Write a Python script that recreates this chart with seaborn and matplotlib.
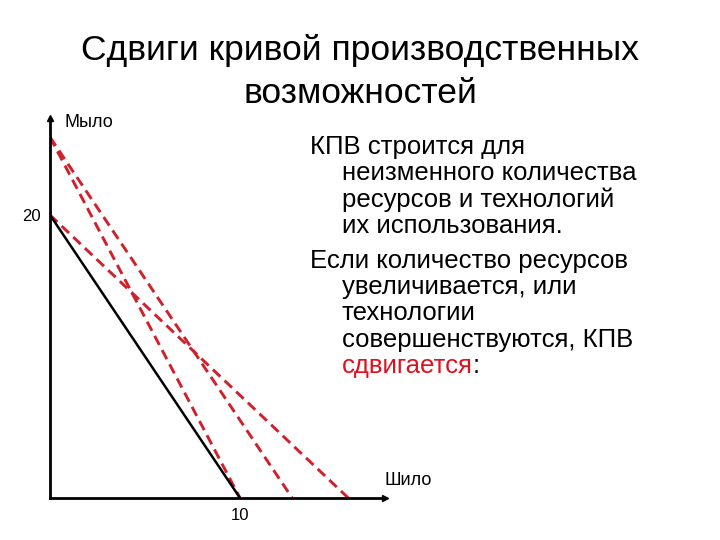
import numpy as np
import pandas as pd
import seaborn as sns
import matplotlib.pyplot as plt

# Данные: КПВ (прямые линии), точки пересечения с осями
base_y, base_x = 20, 10                      # исходная КПВ
shift_y = [25.5, 25.5, 20]                   # пересечения сдвинутых КПВ с осью Мыло
shift_x = [12.75, 10, 15.7]                  # пересечения сдвинутых КПВ с осью Шило
x_ticks = [10]
y_ticks = [20]

text_lines = [
    ("КПВ строится для", 0),
    ("неизменного количества", 1),
    ("ресурсов и технологий", 1),
    ("их использования.", 1),
    ("Если количество ресурсов", 0),
    ("увеличивается, или", 1),
    ("технологии", 1),
    ("совершенствуются, КПВ", 1),
]
last_red = "сдвигается"

sns.set_style("white")
plt.rcParams['font.family'] = ['Liberation Sans', 'DejaVu Sans']
plt.rcParams['text.color'] = 'black'
plt.rcParams['xtick.color'] = 'black'
plt.rcParams['ytick.color'] = 'black'

fig = plt.figure(figsize=(7.2, 5.4), dpi=100)
ax = fig.add_axes([50/720, 42/540, 335/720, 380/540])

red = '#d0202c'
for yy, xx in zip(shift_y, shift_x):
    sns.lineplot(x=[0, xx], y=[yy, 0], color=red, linestyle=(0, (3.5, 2)), linewidth=2.1, ax=ax)
sns.lineplot(x=[0, base_x], y=[base_y, 0], color='black', linewidth=1.8, ax=ax)

ax.set_xlim(0, 335/19)
ax.set_ylim(0, 380/14.15)
sns.despine(ax=ax)
for s in ['left', 'bottom']:
    ax.spines[s].set_color('black')
    ax.spines[s].set_linewidth(2)
ax.plot(1, 0, '>k', transform=ax.transAxes, clip_on=False, markersize=5)
ax.plot(0, 1, '^k', transform=ax.transAxes, clip_on=False, markersize=5)
ax.set_xticks(x_ticks)
ax.set_yticks(y_ticks)
ax.tick_params(length=0, labelsize=12, pad=7)
ax.set_xlabel('')
ax.set_ylabel('')
ax.text(65/720, (540-127)/540, 'Мыло', transform=fig.transFigure, fontsize=13, va='baseline')
ax.text(385/720, (540-485)/540, 'Шило', transform=fig.transFigure, fontsize=13, va='baseline')

# Заголовок
fig.text(0.5, (540-60)/540, 'Сдвиги кривой производственных', ha='center', va='baseline', fontsize=25.5)
fig.text(0.5, (540-103)/540, 'возможностей', ha='center', va='baseline', fontsize=25.5)

# Текст справа
baselines = [154, 180, 207, 233, 268, 294, 320, 347, 373]
fs = 18.5
for (line, indent), b in zip(text_lines, baselines):
    x = 342 if indent else 310
    fig.text(x/720, (540-b)/540, line, fontsize=fs, va='baseline')
t = fig.text(342/720, (540-baselines[-1])/540, last_red, fontsize=fs, va='baseline', color='#e0101c')
fig.canvas.draw()
bb = t.get_window_extent()
fig.text(bb.x1/720, (540-baselines[-1])/540, ':', fontsize=fs, va='baseline')

plt.savefig('out.png', dpi=100)
